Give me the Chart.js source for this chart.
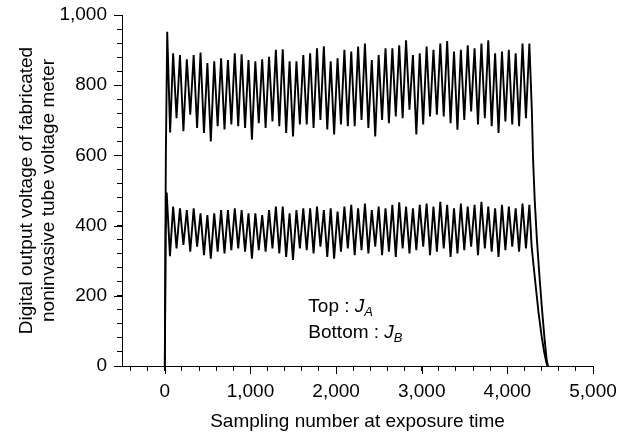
<!DOCTYPE html>
<html>
<head>
<meta charset="utf-8">
<script src="https://cdn.jsdelivr.net/npm/chart.js@4/dist/chart.umd.min.js"></script>
<style>
  html, body { margin: 0; padding: 0; background: #fff; }
  #wrap { width: 632px; height: 437px; }
</style>
</head>
<body>
<div id="wrap"><canvas id="chart" width="632" height="437"></canvas></div>
<script>
// ------------------ Data ------------------
// sample positions of the peaks / troughs (shared by both signals)
const cycleX = [97, 137, 177, 217, 257, 297, 337, 377, 417, 457, 497, 537, 577, 617, 657, 697, 737, 777, 817, 857,
  897, 937, 977, 1017, 1057, 1097, 1137, 1177, 1217, 1257, 1297, 1337, 1377, 1417, 1457, 1497, 1537, 1577, 1617, 1657,
  1697, 1737, 1777, 1817, 1857, 1897, 1937, 1977, 2017, 2057, 2097, 2137, 2177, 2217, 2257, 2297, 2337, 2377, 2417, 2457,
  2497, 2537, 2577, 2617, 2657, 2697, 2737, 2777, 2817, 2857, 2897, 2937, 2977, 3017, 3057, 3097, 3137, 3177, 3217, 3257,
  3297, 3337, 3377, 3417, 3457, 3497, 3537, 3577, 3617, 3657, 3697, 3737, 3777, 3817, 3857, 3897, 3937, 3977, 4017, 4057,
  4097, 4137, 4177, 4217, 4257];

// Top : J_A  (peak, trough, peak, ...)
const topCycleY = [891, 706, 886, 669, 874, 716, 886, 678, 893, 664, 863, 640, 868, 683, 877, 674, 872, 688, 891, 683,
  888, 678, 872, 645, 868, 692, 874, 678, 881, 697, 901, 683, 902, 664, 868, 654, 868, 688, 886, 688,
  891, 678, 905, 701, 911, 674, 868, 660, 877, 688, 901, 683, 896, 683, 910, 701, 919, 678, 872, 654,
  886, 701, 905, 692, 905, 711, 914, 706, 928, 730, 886, 660, 891, 688, 910, 711, 901, 716, 919, 711,
  926, 692, 896, 673, 901, 701, 914, 725, 905, 688, 919, 706, 928, 683, 891, 664, 896, 697, 901, 688,
  891, 683, 919, 706, 919];
const topLeadX = [0, 12, 28, 62];
const topLeadY = [0, 600, 952, 665];
const topTailX = [4285, 4300, 4320, 4345, 4375, 4405, 4435, 4460, 4475];
const topTailY = [735, 590, 470, 360, 255, 160, 75, 15, 0];

// Bottom : J_B
const bottomCycleY = [454, 335, 449, 345, 444, 326, 449, 340, 435, 316, 430, 306, 435, 326, 444, 321, 444, 330, 449, 335,
  444, 326, 435, 306, 435, 330, 430, 326, 444, 335, 454, 321, 454, 311, 435, 302, 444, 335, 449, 330,
  449, 321, 454, 340, 444, 311, 449, 306, 440, 326, 454, 335, 459, 316, 449, 330, 463, 321, 444, 340,
  454, 316, 449, 326, 459, 311, 466, 335, 454, 321, 449, 330, 459, 340, 463, 316, 454, 326, 468, 335,
  459, 311, 449, 321, 463, 330, 454, 340, 459, 316, 468, 335, 454, 326, 449, 311, 459, 330, 454, 340,
  449, 326, 463, 335, 459];
const bottomLeadX = [0, 10, 22, 60];
const bottomLeadY = [0, 380, 494, 313];
const bottomTailX = [4283, 4300, 4330, 4365, 4400, 4430, 4455, 4470];
const bottomTailY = [342, 300, 230, 150, 85, 40, 10, 0];

// axis ticks (majors get a label)
const xTicks = [-400, -200, 0, 200, 400, 600, 800, 1000, 1200, 1400, 1600, 1800, 2000, 2200, 2400, 2600, 2800,
  3000, 3200, 3400, 3600, 3800, 4000, 4200, 4400, 4600, 4800, 5000];
const yTicks = [0, 40, 80, 120, 160, 200, 240, 280, 320, 360, 400, 440, 480, 520, 560, 600, 640, 680, 720,
  760, 800, 840, 880, 920, 960, 1000];

const legendLines = [
  { label: "Top : ", sym: "J", sub: "A", x: 1676, y: 155 },
  { label: "Bottom : ", sym: "J", sub: "B", x: 1676, y: 80 }
];

// ------------------ Build the points ------------------
function toPoints(xs, ys) {
  const pts = [];
  for (let i = 0; i < xs.length; i++) {
    pts.push({ x: xs[i], y: ys[i] });
  }
  return pts;
}
const topPoints = toPoints(topLeadX.concat(cycleX, topTailX), topLeadY.concat(topCycleY, topTailY));
const bottomPoints = toPoints(bottomLeadX.concat(cycleX, bottomTailX), bottomLeadY.concat(bottomCycleY, bottomTailY));

const FONT = "'Liberation Sans', Arial, Helvetica, sans-serif";

// ------------------ Plugin: longer major ticks + the text label ------------------
const extras = {
  id: "extras",
  afterDraw(chart) {
    const ctx = chart.ctx;
    const xs = chart.scales.x;
    const ys = chart.scales.y;
    ctx.save();
    ctx.strokeStyle = "#000";
    ctx.lineWidth = 1;
    ctx.beginPath();
    xTicks.forEach((v) => {
      if (v % 1000 === 0) {
        const px = Math.round(xs.getPixelForValue(v)) + 0.5;
        ctx.moveTo(px, ys.bottom);
        ctx.lineTo(px, ys.bottom + 8);
      }
    });
    yTicks.forEach((v) => {
      if (v % 200 === 0) {
        const py = Math.round(ys.getPixelForValue(v)) + 0.5;
        ctx.moveTo(xs.left, py);
        ctx.lineTo(xs.left - 8, py);
      }
    });
    ctx.stroke();

    ctx.fillStyle = "#000";
    ctx.textBaseline = "alphabetic";
    legendLines.forEach((l) => {
      let px = xs.getPixelForValue(l.x);
      const py = ys.getPixelForValue(l.y);
      ctx.font = "19px " + FONT;
      ctx.fillText(l.label, px, py);
      px += ctx.measureText(l.label).width;
      ctx.font = "italic 19px " + FONT;
      ctx.fillText(l.sym, px, py);
      px += ctx.measureText(l.sym).width;
      ctx.font = "italic 13px " + FONT;
      ctx.fillText(l.sub, px, py + 4);
    });
    ctx.restore();
  }
};

const ctx = document.getElementById("chart").getContext("2d");
const myChart = new Chart(ctx, {
  type: "line",
  data: {
    datasets: [
      { label: "Top : JA", data: topPoints, borderColor: "#000", borderWidth: 1.9, pointRadius: 0, tension: 0, fill: false },
      { label: "Bottom : JB", data: bottomPoints, borderColor: "#000", borderWidth: 1.9, pointRadius: 0, tension: 0, fill: false }
    ]
  },
  options: {
    responsive: false,
    animation: false,
    parsing: false,
    layout: { padding: { top: 15, right: 39, left: 0, bottom: 0 } },
    plugins: { legend: { display: false }, tooltip: { enabled: false } },
    scales: {
      x: {
        type: "linear",
        min: -500,
        max: 5000,
        afterBuildTicks: (s) => { s.ticks = xTicks.map((v) => ({ value: v })); },
        afterFit: (s) => { s.height = 71; s.paddingLeft = 0; s.paddingRight = 0; },
        grid: { drawOnChartArea: false, drawTicks: true, tickLength: 5, color: "#000" },
        border: { display: true, color: "#000", width: 1 },
        ticks: {
          autoSkip: false,
          maxRotation: 0,
          padding: 9,
          color: "#000",
          font: { family: FONT, size: 19 },
          callback: (v) => (v % 1000 === 0 ? v.toLocaleString("en-US") : "")
        },
        title: {
          display: true,
          text: "Sampling number at exposure time",
          color: "#000",
          font: { family: FONT, size: 19 },
          padding: { top: 4, bottom: 4 }
        }
      },
      y: {
        type: "linear",
        min: 0,
        max: 1000,
        afterBuildTicks: (s) => { s.ticks = yTicks.map((v) => ({ value: v })); },
        afterFit: (s) => { s.width = 122; s.paddingTop = 0; s.paddingBottom = 0; },
        grid: { drawOnChartArea: false, drawTicks: true, tickLength: 5, color: "#000" },
        border: { display: true, color: "#000", width: 1 },
        ticks: {
          autoSkip: false,
          padding: 10,
          color: "#000",
          font: { family: FONT, size: 19 },
          callback: (v) => (v % 200 === 0 ? v.toLocaleString("en-US") : "")
        },
        title: {
          display: true,
          text: ["Digital output voltage of fabricated", "noninvasive tube voltage meter"],
          color: "#000",
          font: { family: FONT, size: 19, lineHeight: 1.15 },
          padding: { top: 16, bottom: 0 }
        }
      }
    }
  },
  plugins: [extras]
});
</script>
</body>
</html>
